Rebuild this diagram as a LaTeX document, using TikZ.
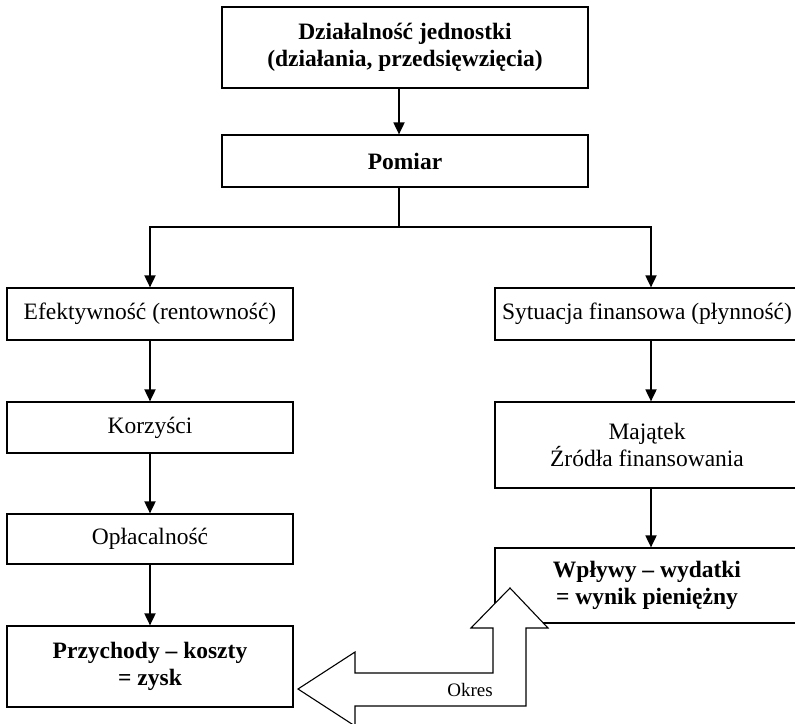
\documentclass[tikz,border=0pt]{standalone}
\usepackage{fontspec}
\setmainfont{Liberation Serif}
\usetikzlibrary{arrows.meta}
\begin{document}
\begin{tikzpicture}[x=1pt,y=-1pt,
	box/.style={draw,line width=1.2pt,align=center,inner sep=0pt,font=\fontsize{23.5}{27}\selectfont},
	bbox/.style={box,font=\fontsize{23.5}{27}\selectfont\bfseries},
	conn/.style={line width=1.8pt,-{Triangle[width=11pt,length=12pt]}},
	plain/.style={line width=1.8pt}]
	\useasboundingbox (0,0) rectangle (795,723);
		\node[bbox,minimum width=366pt,minimum height=81pt](top) at (405,47.5){Działalność jednostki\\(działania, przedsięwzięcia)};
		\node[bbox,minimum width=366pt,minimum height=52pt](pomiar) at (405,161){Pomiar};
		\node[box,minimum width=286pt,minimum height=52pt](efekt) at (150,314){Efektywność (rentowność)};
		\node[box,minimum width=286pt,minimum height=51pt](korz) at (150,427.5){Korzyści};
		\node[box,minimum width=286pt,minimum height=50pt](oplac) at (150,539){Opłacalność};
		\node[bbox,minimum width=286pt,minimum height=81pt](przych) at (150,666.5){Przychody – koszty\\= zysk};
		\node[box,minimum width=304pt,minimum height=52pt](sytu) at (647,314){Sytuacja finansowa (płynność)};
		\node[box,minimum width=304pt,minimum height=86pt](majatek) at (647,445){Majątek\\Źródła finansowania};
		\node[bbox,minimum width=304pt,minimum height=75pt](wplywy) at (647,585.5){Wpływy – wydatki\\= wynik pieniężny};
		\coordinate(split) at (399,227);
		\coordinate(rcol) at (651,0);
		\draw[conn](top.south -| split)--(pomiar.north -| split);
		\draw[plain](pomiar.south -| split)--(split);
		\draw[conn](split)-|(efekt.north);
		\draw[conn](split)-|(sytu.north -| rcol);
		\draw[conn](efekt)--(korz);
		\draw[conn](korz)--(oplac);
		\draw[conn](oplac)--(przych);
		\draw[conn](sytu.south -| rcol)--(majatek.north -| rcol);
		\draw[conn](majatek.south -| rcol)--(wplywy.north -| rcol);
		% strzalka okresu
		\draw[line width=1.1pt,fill=white,line join=miter](510,588)--(548,628)--(526,628)--(526,706)--(355,706)--(355,726)--(298,689)--(355,652)--(355,673)--(493,673)--(493,628)--(471,628)--cycle;
		\node[font=\fontsize{19}{22}\selectfont](okres) at (470,690){Okres};
	\end{tikzpicture}
\end{document}
